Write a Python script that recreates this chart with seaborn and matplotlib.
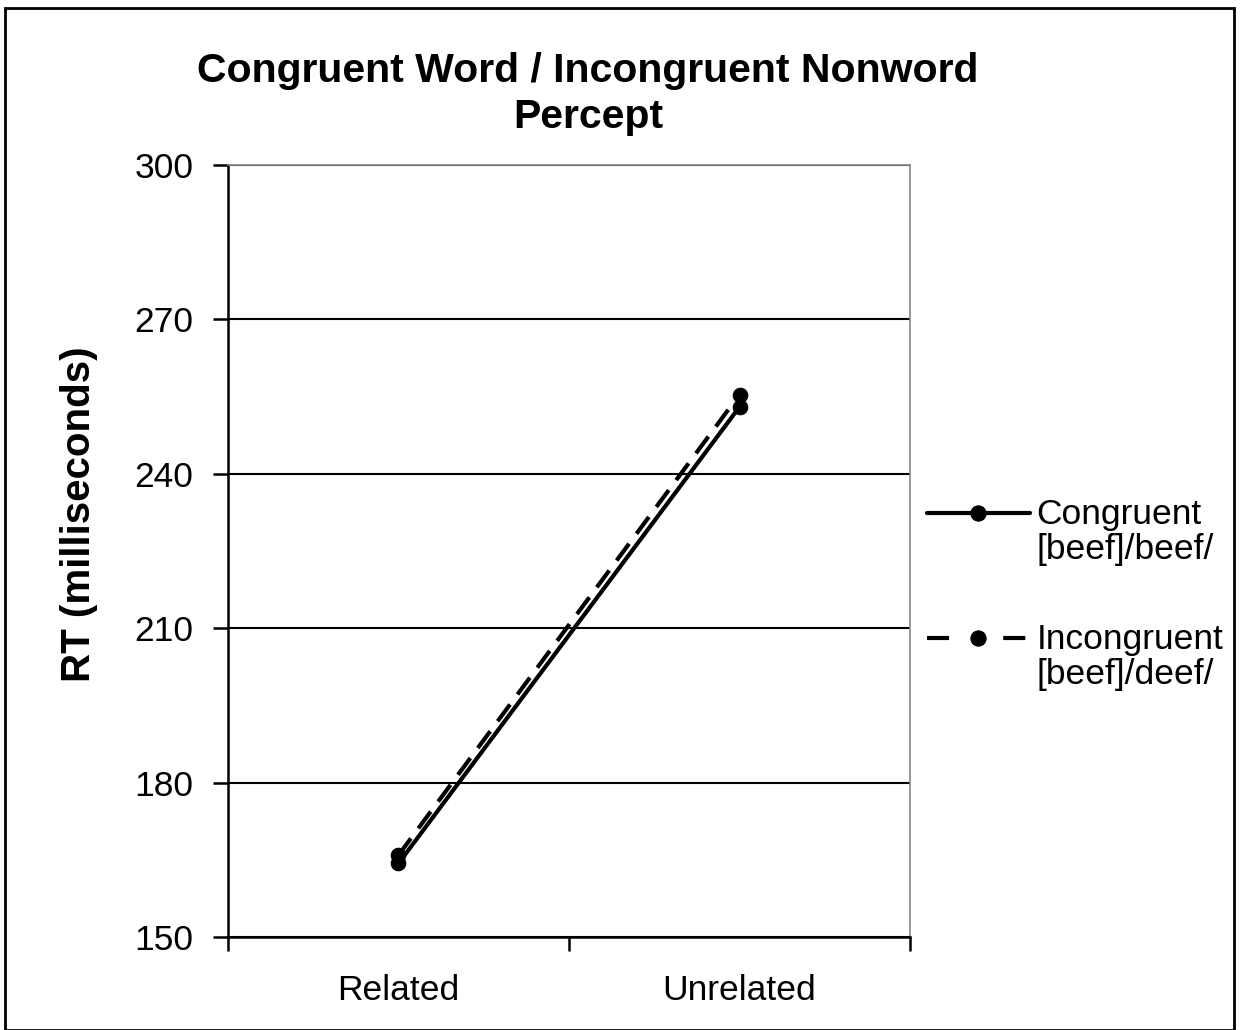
import pandas as pd
import matplotlib.pyplot as plt
import seaborn as sns
from matplotlib.lines import Line2D
from matplotlib.legend_handler import HandlerLine2D

# data
PRIME = ["Related", "Unrelated"]
CONGRUENT_RT = [164.3, 253.0]
INCONGRUENT_RT = [165.9, 255.4]
SERIES = ["Congruent\n[beef]/beef/", "Incongruent\n[beef]/deef/"]
Y_TICKS = [150, 180, 210, 240, 270, 300]

df = pd.DataFrame({
    "prime": PRIME * 2,
    "rt": CONGRUENT_RT + INCONGRUENT_RT,
    "condition": [SERIES[0]] * 2 + [SERIES[1]] * 2,
})


class TopLineHandler(HandlerLine2D):
    # put the legend handle level with the first line of a two-line label
    def create_artists(self, legend, orig_handle, xdescent, ydescent,
                       width, height, fontsize, trans):
        shift = 0.55 * fontsize
        return super().create_artists(legend, orig_handle, xdescent,
                                      ydescent - 2 * shift, width, height,
                                      fontsize, trans)


sns.set_style("white", {"text.color": "black", "axes.labelcolor": "black",
                        "xtick.color": "black", "ytick.color": "black"})
plt.rcParams["font.family"] = ["Liberation Sans", "DejaVu Sans"]

fig = plt.figure(figsize=(12.41, 10.30), dpi=100)
ax = fig.add_axes([0.1837, 0.0903, 0.5496, 0.7495])

sns.lineplot(
    data=df, x="prime", y="rt", style="condition",
    dashes={SERIES[0]: "", SERIES[1]: (5, 3)},
    markers={SERIES[0]: "o", SERIES[1]: "o"},
    color="black", linewidth=3, markersize=10.5,
    markeredgecolor="black", ax=ax,
)

ax.set_xlim(-0.5, 1.5)
ax.set_ylim(150, 300)
ax.set_yticks(Y_TICKS)
ax.yaxis.grid(True, color="black", linewidth=1.5)
ax.set_axisbelow(True)

ax.set_xticks([0, 1])
ax.set_xticks([-0.5, 0.5, 1.5], minor=True)
ax.tick_params(axis="x", which="major", length=0, pad=27, labelsize=25.5)
ax.tick_params(axis="x", which="minor", length=10, width=1.8, direction="out",
               color="black", bottom=True)
ax.tick_params(axis="y", length=11, width=1.8, direction="out", color="black",
               left=True, labelsize=25.5, pad=14)

for side in ["left", "bottom"]:
    ax.spines[side].set_color("black")
    ax.spines[side].set_linewidth(1.8)
for side in ["top", "right"]:
    ax.spines[side].set_color("#888888")
    ax.spines[side].set_linewidth(1.2)

ax.set_xlabel("")
ax.set_ylabel("RT (milliseconds)", fontsize=29, fontweight="bold")
ax.yaxis.set_label_coords(-0.19, 0.548)
ax.set_title("Congruent Word / Incongruent Nonword\nPercept",
             fontsize=29.5, fontweight="bold", pad=27, linespacing=1.25,
             x=0.528)

leg = ax.legend(loc="upper left", bbox_to_anchor=(1.004, 0.587), frameon=False,
                fontsize=25.5, handlelength=2.9, handletextpad=0.2,
                labelspacing=1.62, borderaxespad=0,
                handler_map={Line2D: TopLineHandler()})
for text in leg.get_texts():
    text.set_linespacing(1.07)
for line in leg.get_lines():
    line.set_linewidth(3)
    line.set_markersize(11)
leg.get_lines()[1].set_dashes([5.3, 13])

# frame around the whole figure
fig.patches.append(plt.Rectangle((0.004, 0.0), 0.99, 0.992, fill=False,
                                 edgecolor="black", linewidth=2,
                                 transform=fig.transFigure, figure=fig))

fig.savefig("out.png", dpi=100)
